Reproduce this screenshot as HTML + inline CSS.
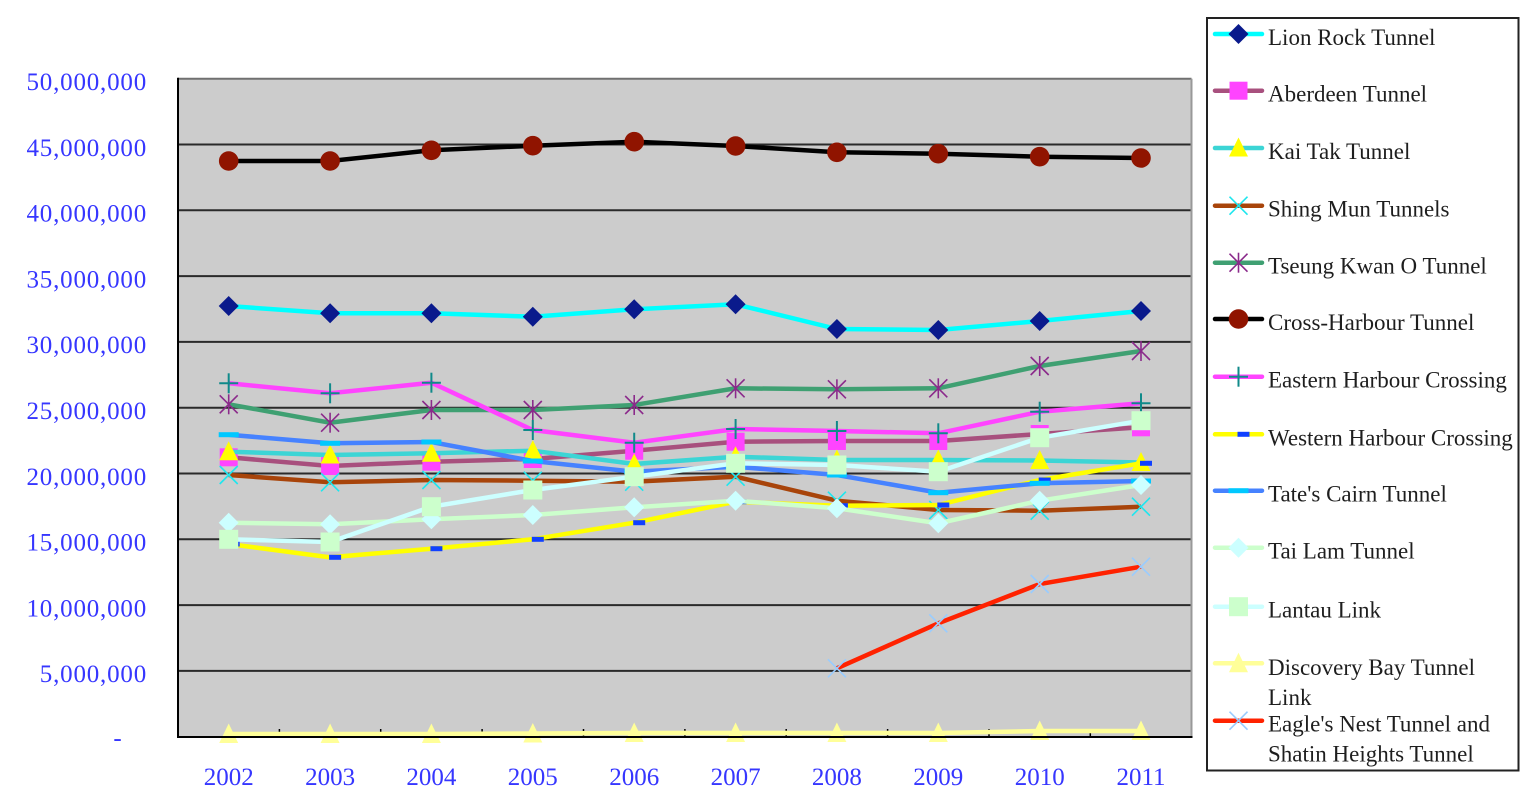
<!DOCTYPE html>
<html><head><meta charset="utf-8">
<style>
html,body{margin:0;padding:0;background:#fff;}
svg{display:block;}
.yl{font-family:"Liberation Serif",serif;font-size:25px;fill:#3636FF;letter-spacing:0.8px;}
.xl{font-family:"Liberation Serif",serif;font-size:25px;fill:#3636FF;}
.lg{font-family:"Liberation Serif",serif;font-size:23px;fill:#1e1e1e;}
</style></head>
<body>
<svg width="1537" height="800" viewBox="0 0 1537 800" xmlns="http://www.w3.org/2000/svg">
<defs>
  <polygon id="mDiaN" points="0,-10 10,0 0,10 -10,0" fill="#0A1A8C"/>
  <rect id="mSqM" x="-9" y="-9" width="18" height="18" fill="#FF44FF"/>
  <polygon id="mTriY" points="0,-10.5 9.5,8.5 -9.5,8.5" fill="#FFFF00"/>
  <g id="mXC" stroke="#1EE6EE" stroke-width="1.6"><line x1="-9" y1="-9" x2="9" y2="9"/><line x1="-9" y1="9" x2="9" y2="-9"/></g>
  <g id="mAst" stroke="#8B2A8B" stroke-width="1.6"><line x1="-9" y1="-9" x2="9" y2="9"/><line x1="-9" y1="9" x2="9" y2="-9"/><line x1="0" y1="-10" x2="0" y2="10"/></g>
  <circle id="mCir" r="9.8" fill="#901400"/>
  <g id="mPlus" stroke="#108A8A" stroke-width="2"><line x1="-9.5" y1="0" x2="9.5" y2="0"/><line x1="0" y1="-10" x2="0" y2="10"/></g>
  <rect id="mDashW" x="-1" y="-2.5" width="12" height="5" fill="#1040FF"/>
  <rect id="mDashT" x="-10" y="-2.5" width="20" height="5" fill="#00C8FF"/>
  <polygon id="mDiaL" points="0,-10 10,0 0,10 -10,0" fill="#CCFFFF"/>
  <rect id="mSqL" x="-9.5" y="-9.5" width="19" height="19" fill="#CCFFCC"/>
  <polygon id="mTriD" points="0,-10.5 9.5,9 -9.5,9" fill="#FFFF99"/>
  <g id="mXE" stroke="#99CCFF" stroke-width="1.6"><line x1="-9" y1="-9" x2="9" y2="9"/><line x1="-9" y1="9" x2="9" y2="-9"/></g>
</defs>

<!-- plot area -->
<rect x="178" y="78.7" width="1013.5" height="658" fill="#CCCCCC"/>
<g stroke="#2a2a2a" stroke-width="2">
  <line x1="178" y1="670.9" x2="1191.5" y2="670.9"/>
  <line x1="178" y1="605.1" x2="1191.5" y2="605.1"/>
  <line x1="178" y1="539.3" x2="1191.5" y2="539.3"/>
  <line x1="178" y1="473.5" x2="1191.5" y2="473.5"/>
  <line x1="178" y1="407.7" x2="1191.5" y2="407.7"/>
  <line x1="178" y1="341.9" x2="1191.5" y2="341.9"/>
  <line x1="178" y1="276.1" x2="1191.5" y2="276.1"/>
  <line x1="178" y1="210.3" x2="1191.5" y2="210.3"/>
  <line x1="178" y1="144.5" x2="1191.5" y2="144.5"/>
</g>
<line x1="178" y1="78.7" x2="1191.5" y2="78.7" stroke="#707070" stroke-width="2"/>
<line x1="1191.5" y1="78.7" x2="1191.5" y2="737" stroke="#999" stroke-width="2"/>
<g stroke="#000" stroke-width="1.5">
  <line x1="279.4" y1="729" x2="279.4" y2="737"/><line x1="380.7" y1="729" x2="380.7" y2="737"/>
  <line x1="482.1" y1="729" x2="482.1" y2="737"/><line x1="583.5" y1="729" x2="583.5" y2="737"/>
  <line x1="684.9" y1="729" x2="684.9" y2="737"/><line x1="786.2" y1="729" x2="786.2" y2="737"/>
  <line x1="887.6" y1="729" x2="887.6" y2="737"/><line x1="989" y1="729" x2="989" y2="737"/>
  <line x1="1090.3" y1="729" x2="1090.3" y2="737"/>
</g>

<!-- series -->
<g fill="none" stroke-width="4.5" stroke-linejoin="round">
<!-- Lion Rock -->
<polyline stroke="#00FFFF" points="228.7,306 330.1,313.3 431.4,313.3 532.8,316.7 634.2,309.3 735.6,304.3 836.9,329 938.3,330 1039.7,321 1141,311"/>
</g>
<g><use href="#mDiaN" x="228.7" y="306"/><use href="#mDiaN" x="330.1" y="313.3"/><use href="#mDiaN" x="431.4" y="313.3"/><use href="#mDiaN" x="532.8" y="316.7"/><use href="#mDiaN" x="634.2" y="309.3"/><use href="#mDiaN" x="735.6" y="304.3"/><use href="#mDiaN" x="836.9" y="329"/><use href="#mDiaN" x="938.3" y="330"/><use href="#mDiaN" x="1039.7" y="321"/><use href="#mDiaN" x="1141" y="311"/></g>

<!-- Aberdeen -->
<polyline fill="none" stroke-width="4.5" stroke="#A8507E" points="228.7,457.3 330.1,466 431.4,461.7 532.8,459 634.2,450.7 735.6,441.7 836.9,441 938.3,441 1039.7,434 1141,427.3"/>
<g><use href="#mSqM" x="228.7" y="457.3"/><use href="#mSqM" x="330.1" y="466"/><use href="#mSqM" x="431.4" y="461.7"/><use href="#mSqM" x="532.8" y="459"/><use href="#mSqM" x="634.2" y="450.7"/><use href="#mSqM" x="735.6" y="441.7"/><use href="#mSqM" x="836.9" y="441"/><use href="#mSqM" x="938.3" y="441"/><use href="#mSqM" x="1039.7" y="434"/><use href="#mSqM" x="1141" y="427.3"/></g>

<!-- Kai Tak -->
<polyline fill="none" stroke-width="4.5" stroke="#3CD5D5" points="228.7,451.7 330.1,455 431.4,453.3 532.8,450.7 634.2,464 735.6,456.7 836.9,460 938.3,460 1039.7,460.5 1141,462.5"/>
<g><use href="#mTriY" x="228.7" y="451.7"/><use href="#mTriY" x="330.1" y="455"/><use href="#mTriY" x="431.4" y="453.3"/><use href="#mTriY" x="532.8" y="450.7"/><use href="#mTriY" x="634.2" y="464"/><use href="#mTriY" x="735.6" y="456.7"/><use href="#mTriY" x="836.9" y="460"/><use href="#mTriY" x="938.3" y="460"/><use href="#mTriY" x="1039.7" y="460.5"/><use href="#mTriY" x="1141" y="462.5"/></g>

<!-- Shing Mun -->
<polyline fill="none" stroke-width="4.5" stroke="#A8440A" points="228.7,475 330.1,482.3 431.4,480 532.8,480.7 634.2,481.7 735.6,476.7 836.9,500.7 938.3,510 1039.7,510.7 1141,506.7"/>
<g><use href="#mXC" x="228.7" y="475"/><use href="#mXC" x="330.1" y="482.3"/><use href="#mXC" x="431.4" y="480"/><use href="#mXC" x="532.8" y="480.7"/><use href="#mXC" x="634.2" y="481.7"/><use href="#mXC" x="735.6" y="476.7"/><use href="#mXC" x="836.9" y="500.7"/><use href="#mXC" x="938.3" y="510"/><use href="#mXC" x="1039.7" y="510.7"/><use href="#mXC" x="1141" y="506.7"/></g>

<!-- TKO -->
<polyline fill="none" stroke-width="4.5" stroke="#3FA072" points="228.7,404.3 330.1,422.7 431.4,410 532.8,410 634.2,405 735.6,388.3 836.9,389.3 938.3,388.3 1039.7,366 1141,351"/>
<g><use href="#mAst" x="228.7" y="404.3"/><use href="#mAst" x="330.1" y="422.7"/><use href="#mAst" x="431.4" y="410"/><use href="#mAst" x="532.8" y="410"/><use href="#mAst" x="634.2" y="405"/><use href="#mAst" x="735.6" y="388.3"/><use href="#mAst" x="836.9" y="389.3"/><use href="#mAst" x="938.3" y="388.3"/><use href="#mAst" x="1039.7" y="366"/><use href="#mAst" x="1141" y="351"/></g>

<!-- Cross-Harbour -->
<polyline fill="none" stroke-width="4.5" stroke="#000" points="228.7,161 330.1,161 431.4,150.3 532.8,145.7 634.2,141.7 735.6,146 836.9,152.3 938.3,153.7 1039.7,156.7 1141,158"/>
<g><use href="#mCir" x="228.7" y="161"/><use href="#mCir" x="330.1" y="161"/><use href="#mCir" x="431.4" y="150.3"/><use href="#mCir" x="532.8" y="145.7"/><use href="#mCir" x="634.2" y="141.7"/><use href="#mCir" x="735.6" y="146"/><use href="#mCir" x="836.9" y="152.3"/><use href="#mCir" x="938.3" y="153.7"/><use href="#mCir" x="1039.7" y="156.7"/><use href="#mCir" x="1141" y="158"/></g>

<!-- EHC -->
<polyline fill="none" stroke-width="4.5" stroke="#FF44FF" points="228.7,383.3 330.1,393.3 431.4,382.7 532.8,430 634.2,442.7 735.6,429 836.9,431 938.3,433.3 1039.7,411.7 1141,403.3"/>
<g><use href="#mPlus" x="228.7" y="383.3"/><use href="#mPlus" x="330.1" y="393.3"/><use href="#mPlus" x="431.4" y="382.7"/><use href="#mPlus" x="532.8" y="430"/><use href="#mPlus" x="634.2" y="442.7"/><use href="#mPlus" x="735.6" y="429"/><use href="#mPlus" x="836.9" y="431"/><use href="#mPlus" x="938.3" y="433.3"/><use href="#mPlus" x="1039.7" y="411.7"/><use href="#mPlus" x="1141" y="403.3"/></g>

<!-- Western -->
<polyline fill="none" stroke-width="4.5" stroke="#FFFF00" points="228.7,544 330.1,557.3 431.4,548.7 532.8,539.3 634.2,522.7 735.6,501.7 836.9,505.7 938.3,505 1039.7,480 1141,463.3"/>
<g><use href="#mDashW" x="228.7" y="544"/><use href="#mDashW" x="330.1" y="557.3"/><use href="#mDashW" x="431.4" y="548.7"/><use href="#mDashW" x="532.8" y="539.3"/><use href="#mDashW" x="634.2" y="522.7"/><use href="#mDashW" x="735.6" y="501.7"/><use href="#mDashW" x="836.9" y="505.7"/><use href="#mDashW" x="938.3" y="505"/><use href="#mDashW" x="1039.7" y="480"/><use href="#mDashW" x="1141" y="463.3"/></g>

<!-- Tate's Cairn -->
<polyline fill="none" stroke-width="4.5" stroke="#4682FF" points="228.7,434.7 330.1,443.3 431.4,442 532.8,461 634.2,471.7 735.6,466.7 836.9,475 938.3,492.7 1039.7,483.3 1141,481"/>
<g><use href="#mDashT" x="228.7" y="434.7"/><use href="#mDashT" x="330.1" y="443.3"/><use href="#mDashT" x="431.4" y="442"/><use href="#mDashT" x="532.8" y="461"/><use href="#mDashT" x="634.2" y="471.7"/><use href="#mDashT" x="735.6" y="466.7"/><use href="#mDashT" x="836.9" y="475"/><use href="#mDashT" x="938.3" y="492.7"/><use href="#mDashT" x="1039.7" y="483.3"/><use href="#mDashT" x="1141" y="481"/></g>

<!-- Tai Lam -->
<polyline fill="none" stroke-width="4.5" stroke="#CCFFCC" points="228.7,522.7 330.1,524.3 431.4,519.3 532.8,515 634.2,507.3 735.6,500.7 836.9,508.3 938.3,523.3 1039.7,500.7 1141,485"/>
<g><use href="#mDiaL" x="228.7" y="522.7"/><use href="#mDiaL" x="330.1" y="524.3"/><use href="#mDiaL" x="431.4" y="519.3"/><use href="#mDiaL" x="532.8" y="515"/><use href="#mDiaL" x="634.2" y="507.3"/><use href="#mDiaL" x="735.6" y="500.7"/><use href="#mDiaL" x="836.9" y="508.3"/><use href="#mDiaL" x="938.3" y="523.3"/><use href="#mDiaL" x="1039.7" y="500.7"/><use href="#mDiaL" x="1141" y="485"/></g>

<!-- Lantau -->
<polyline fill="none" stroke-width="4.5" stroke="#CCFFFF" points="228.7,539.3 330.1,542 431.4,506.7 532.8,490 634.2,476.7 735.6,463.3 836.9,465 938.3,471.7 1039.7,437.7 1141,420.7"/>
<g><use href="#mSqL" x="228.7" y="539.3"/><use href="#mSqL" x="330.1" y="542"/><use href="#mSqL" x="431.4" y="506.7"/><use href="#mSqL" x="532.8" y="490"/><use href="#mSqL" x="634.2" y="476.7"/><use href="#mSqL" x="735.6" y="463.3"/><use href="#mSqL" x="836.9" y="465"/><use href="#mSqL" x="938.3" y="471.7"/><use href="#mSqL" x="1039.7" y="437.7"/><use href="#mSqL" x="1141" y="420.7"/></g>

<!-- Discovery Bay -->
<polyline fill="none" stroke-width="4.5" stroke="#FFFF99" points="228.7,734 330.1,734 431.4,734 532.8,733.5 634.2,733 735.6,733 836.9,733 938.3,733 1039.7,731 1141,731"/>
<g><use href="#mTriD" x="228.7" y="734"/><use href="#mTriD" x="330.1" y="734"/><use href="#mTriD" x="431.4" y="734"/><use href="#mTriD" x="532.8" y="733.5"/><use href="#mTriD" x="634.2" y="733"/><use href="#mTriD" x="735.6" y="733"/><use href="#mTriD" x="836.9" y="733"/><use href="#mTriD" x="938.3" y="733"/><use href="#mTriD" x="1039.7" y="731"/><use href="#mTriD" x="1141" y="731"/></g>

<!-- Eagle's Nest -->
<polyline fill="none" stroke-width="4.5" stroke="#FF2200" points="836.9,668.3 938.3,623.3 1039.7,584 1141,566.7"/>
<g><use href="#mXE" x="836.9" y="668.3"/><use href="#mXE" x="938.3" y="623.3"/><use href="#mXE" x="1039.7" y="584"/><use href="#mXE" x="1141" y="566.7"/></g>

<!-- axes -->
<line x1="178" y1="77.7" x2="178" y2="738" stroke="#000" stroke-width="2"/>
<line x1="177" y1="737" x2="1192.5" y2="737" stroke="#000" stroke-width="2"/>

<!-- y labels -->
<g class="yl" text-anchor="end">
<text x="147" y="90">50,000,000</text>
<text x="147" y="155.8">45,000,000</text>
<text x="147" y="221.6">40,000,000</text>
<text x="147" y="287.4">35,000,000</text>
<text x="147" y="353.2">30,000,000</text>
<text x="147" y="419">25,000,000</text>
<text x="147" y="484.8">20,000,000</text>
<text x="147" y="550.6">15,000,000</text>
<text x="147" y="616.4">10,000,000</text>
<text x="147" y="682.2">5,000,000</text>
</g>
<text class="xl" x="117.5" y="746" text-anchor="middle">-</text>

<!-- x labels -->
<g class="xl" text-anchor="middle">
<text x="228.7" y="785">2002</text><text x="330.1" y="785">2003</text><text x="431.4" y="785">2004</text>
<text x="532.8" y="785">2005</text><text x="634.2" y="785">2006</text><text x="735.6" y="785">2007</text>
<text x="836.9" y="785">2008</text><text x="938.3" y="785">2009</text><text x="1039.7" y="785">2010</text>
<text x="1141" y="785">2011</text>
</g>

<!-- legend -->
<rect x="1206.5" y="17.5" width="1312.5" height="753.5" fill="#fff" stroke="none"/>
<rect x="1207" y="18" width="311.5" height="752.5" fill="#fff" stroke="#222" stroke-width="2"/>
<g fill="none" stroke-width="4.5" stroke-linecap="round">
<line x1="1215" y1="34" x2="1262" y2="34" stroke="#00FFFF"/>
<line x1="1215" y1="90.7" x2="1262" y2="90.7" stroke="#A8507E"/>
<line x1="1215" y1="148" x2="1262" y2="148" stroke="#3CD5D5"/>
<line x1="1215" y1="205.7" x2="1262" y2="205.7" stroke="#A8440A"/>
<line x1="1215" y1="262.7" x2="1262" y2="262.7" stroke="#3FA072"/>
<line x1="1215" y1="319" x2="1262" y2="319" stroke="#000"/>
<line x1="1215" y1="376.7" x2="1262" y2="376.7" stroke="#FF44FF"/>
<line x1="1215" y1="434.3" x2="1262" y2="434.3" stroke="#FFFF00"/>
<line x1="1215" y1="490.7" x2="1262" y2="490.7" stroke="#4682FF"/>
<line x1="1215" y1="547.7" x2="1262" y2="547.7" stroke="#CCFFCC"/>
<line x1="1215" y1="606.7" x2="1262" y2="606.7" stroke="#CCFFFF"/>
<line x1="1215" y1="663.3" x2="1262" y2="663.3" stroke="#FFFF99"/>
<line x1="1215" y1="720.7" x2="1262" y2="720.7" stroke="#FF2200"/>
</g>
<g>
<use href="#mDiaN" x="1238.5" y="34"/>
<use href="#mSqM" x="1238.5" y="90.7"/>
<use href="#mTriY" x="1238.5" y="148"/>
<use href="#mXC" x="1238.5" y="205.7"/>
<use href="#mAst" x="1238.5" y="262.7"/>
<use href="#mCir" x="1238.5" y="319"/>
<use href="#mPlus" x="1238.5" y="376.7"/>
<use href="#mDashW" x="1238.5" y="434.3"/>
<use href="#mDashT" x="1238.5" y="490.7"/>
<use href="#mDiaL" x="1238.5" y="547.7"/>
<use href="#mSqL" x="1238.5" y="606.7"/>
<use href="#mTriD" x="1238.5" y="663.3"/>
<use href="#mXE" x="1238.5" y="720.7"/>
</g>
<g class="lg">
<text x="1268" y="45">Lion Rock Tunnel</text>
<text x="1268" y="101.7">Aberdeen Tunnel</text>
<text x="1268" y="159">Kai Tak Tunnel</text>
<text x="1268" y="216.7">Shing Mun Tunnels</text>
<text x="1268" y="273.7">Tseung Kwan O Tunnel</text>
<text x="1268" y="330">Cross-Harbour Tunnel</text>
<text x="1268" y="387.7">Eastern Harbour Crossing</text>
<text x="1268" y="445.3">Western Harbour Crossing</text>
<text x="1268" y="501.7">Tate's Cairn Tunnel</text>
<text x="1268" y="558.7">Tai Lam Tunnel</text>
<text x="1268" y="617.7">Lantau Link</text>
<text x="1268" y="675">Discovery Bay Tunnel</text>
<text x="1268" y="705">Link</text>
<text x="1268" y="731.7">Eagle's Nest Tunnel and</text>
<text x="1268" y="761.7">Shatin Heights Tunnel</text>
</g>
</svg>
</body></html>
